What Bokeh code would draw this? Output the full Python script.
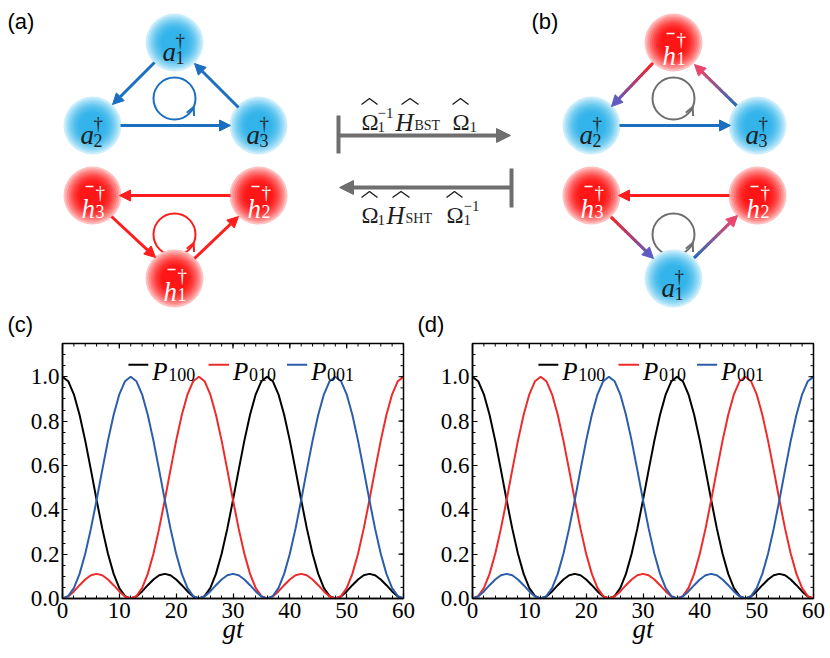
import math
from bokeh.plotting import figure
from bokeh.models import (Range1d, Arrow, NormalHead, OpenHead,
                          FixedTicker, PrintfTickFormatter)
from bokeh.layouts import column, row
from bokeh.core.properties import value
from bokeh.embed import file_html
from bokeh.resources import INLINE

# ---------------- data ----------------
gt = list(range(61))
P100 = [1.000, 0.980, 0.921, 0.829, 0.712, 0.580, 0.444, 0.315, 0.202, 0.111, 0.047, 0.011, 0.000,
        0.009, 0.032, 0.060, 0.086, 0.105, 0.111, 0.105, 0.086, 0.060, 0.032, 0.009, 0.000,
        0.011, 0.047, 0.111, 0.202, 0.315, 0.444, 0.580, 0.712, 0.829, 0.921, 0.980, 1.000,
        0.980, 0.921, 0.829, 0.712, 0.580, 0.444, 0.315, 0.202, 0.111, 0.047, 0.011, 0.000,
        0.009, 0.032, 0.060, 0.086, 0.105, 0.111, 0.105, 0.086, 0.060, 0.032, 0.009, 0.000]
P_peak12 = [0.000, 0.011, 0.047, 0.111, 0.202, 0.315, 0.444, 0.580, 0.712, 0.829, 0.921, 0.980,
            1.000, 0.980, 0.921, 0.829, 0.712, 0.580, 0.444, 0.315, 0.202, 0.111, 0.047, 0.011, 0.000,
            0.009, 0.032, 0.060, 0.086, 0.105, 0.111, 0.105, 0.086, 0.060, 0.032, 0.009, 0.000,
            0.011, 0.047, 0.111, 0.202, 0.315, 0.444, 0.580, 0.712, 0.829, 0.921, 0.980, 1.000,
            0.980, 0.921, 0.829, 0.712, 0.580, 0.444, 0.315, 0.202, 0.111, 0.047, 0.011, 0.000]
P_peak24 = [0.000, 0.009, 0.032, 0.060, 0.086, 0.105, 0.111, 0.105, 0.086, 0.060, 0.032, 0.009,
            0.000, 0.011, 0.047, 0.111, 0.202, 0.315, 0.444, 0.580, 0.712, 0.829, 0.921, 0.980,
            1.000, 0.980, 0.921, 0.829, 0.712, 0.580, 0.444, 0.315, 0.202, 0.111, 0.047, 0.011, 0.000,
            0.009, 0.032, 0.060, 0.086, 0.105, 0.111, 0.105, 0.086, 0.060, 0.032, 0.009, 0.000,
            0.011, 0.047, 0.111, 0.202, 0.315, 0.444, 0.580, 0.712, 0.829, 0.921, 0.980, 1.000]
# panel (c)
P100_c, P010_c, P001_c = P100, P_peak24, P_peak12
# panel (d)
P100_d, P010_d, P001_d = P100, P_peak12, P_peak24

x_ticks = [0, 10, 20, 30, 40, 50, 60]
y_ticks = [0.0, 0.2, 0.4, 0.6, 0.8, 1.0]
x_minor = list(range(0, 61, 2))
y_minor = [round(0.05 * i, 2) for i in range(24)]
legend_labels = ["100", "010", "001"]

SERIF = "Liberation Serif"
SANS = "Liberation Sans"
BLUE = "#1a6fc0"
RED = "#ff1c1c"
GRAY = "#6e6e6e"
C_BLACK = "black"
C_RED = "#ee2a2a"
C_BLUE = "#2b5dab"
INK = "#1e1e1e"


def hx(c):
    return tuple(int(c[i:i + 2], 16) for i in (1, 3, 5))


def mix(a, b, t):
    a, b = hx(a), hx(b)
    return "#%02x%02x%02x" % tuple(int(round(a[i] + (b[i] - a[i]) * t)) for i in range(3))


def txt(fig, x, y, s, size, style="normal", color="black", align="left",
        baseline="alphabetic", font=SERIF):
    fig.text(x=[x], y=[y], text=[s], text_font=value(font),
             text_font_size=value(f"{size}px"), text_font_style=style,
             text_color=color, text_align=align, text_baseline=baseline)


# ---------------- top diagram (page pixel coordinates) ----------------
TOP_H = 338
top = figure(width=830, height=TOP_H, x_range=Range1d(0, 830), y_range=Range1d(TOP_H, 0),
             output_backend="svg", toolbar_location=None, x_axis_type=None,
             y_axis_type=None, min_border=0, outline_line_color=None)
top.background_fill_color = "white"


def node(cx, cy, kind, k):
    if kind == "a":
        c0, c1 = "#33b4ea", "#cdeefb"
    else:
        c0, c1 = "#ff1616", "#ffc0c0"
    R, n = 29, 16
    rs, cols = [], []
    for i in range(n):
        f = 1 - i / n
        t = max(0.0, (f - 0.4) / 0.6) ** 1.8
        rs.append(R * f)
        cols.append(mix(c0, c1, t))
    top.circle(x=[cx] * n, y=[cy] * n, radius=rs, fill_color=cols, line_color=None)
    if kind == "a":
        txt(top, cx - 12, cy + 9, "a", 27, "italic", INK)
        txt(top, cx + 1, cy - 2, "†", 19, color=INK)
        txt(top, cx + 1, cy + 15, str(k), 18, color=INK)
    else:
        txt(top, cx - 11, cy + 13, "h", 27, "italic", "white")
        top.segment(x0=[cx - 7], y0=[cy - 9], x1=[cx + 1], y1=[cy - 9],
                    line_color="white", line_width=1.5)
        txt(top, cx + 3, cy - 3, "†", 19, color="white")
        txt(top, cx + 3, cy + 16, str(k), 18, color="white")


def arrow(x0, y0, x1, y1, c, lw=3, size=11):
    top.add_layout(Arrow(end=NormalHead(size=size, fill_color=c, line_color=c),
                         x_start=x0, y_start=y0, x_end=x1, y_end=y1,
                         line_color=c, line_width=lw))


def grad_arrow(x0, y0, x1, y1, ca, cb, lw=3, size=11, n=24):
    xs0, ys0, xs1, ys1, cols = [], [], [], [], []
    for i in range(n):
        t0, t1 = i / n, (i + 1) / n
        xs0.append(x0 + (x1 - x0) * t0 * 0.93)
        ys0.append(y0 + (y1 - y0) * t0 * 0.93)
        xs1.append(x0 + (x1 - x0) * t1 * 0.93)
        ys1.append(y0 + (y1 - y0) * t1 * 0.93)
        cols.append(mix(ca, cb, (t0 + t1) / 2))
    top.segment(x0=xs0, y0=ys0, x1=xs1, y1=ys1, line_color=cols, line_width=lw,
                line_cap="round")
    top.add_layout(Arrow(end=NormalHead(size=size, fill_color=cb, line_color=cb),
                         x_start=x1 - (x1 - x0) * 0.1, y_start=y1 - (y1 - y0) * 0.1,
                         x_end=x1, y_end=y1, line_color=cb, line_width=lw))


def loop(cx, cy, c, r=21, th=24):
    top.circle(x=[cx], y=[cy], radius=r, fill_color=None, line_color=c, line_width=2)
    a = math.radians(th)
    px, py = cx + r * math.cos(a), cy + r * math.sin(a)
    dx, dy = math.sin(a), -math.cos(a)
    top.add_layout(Arrow(end=OpenHead(size=8, line_color=c, line_width=2),
                         x_start=px - 2 * dx, y_start=py - 2 * dy, x_end=px, y_end=py,
                         line_color=c, line_width=2))


# (a)
arrow(154, 62, 112, 104, BLUE)
arrow(120, 125, 230, 125, BLUE)
arrow(238, 107, 194, 63, BLUE)
arrow(230, 195, 119, 195, RED)
arrow(111, 216, 155, 257, RED)
arrow(194, 258, 238, 216, RED)
loop(174, 98, BLUE)
loop(174, 234, RED)
for kind, k, cx, cy in [("a", 1, 174, 42), ("a", 2, 92, 125), ("a", 3, 258, 125),
                        ("h", 3, 92, 195), ("h", 2, 258, 195), ("h", 1, 174, 278)]:
    node(cx, cy, kind, k)

# (b)
grad_arrow(652, 63, 611, 106, "#ff2020", "#5e5cc0")
arrow(619, 125, 730, 125, BLUE)
grad_arrow(738, 107, 694, 64, BLUE, "#e8466a")
arrow(729, 195, 618, 195, RED)
grad_arrow(610, 216, 653, 258, "#ff2020", "#5e5cc0")
grad_arrow(692, 259, 737, 215, BLUE, "#e8466a")
loop(673, 98, GRAY)
loop(673, 234, GRAY)
for kind, k, cx, cy in [("h", 1, 673, 42), ("a", 2, 591, 125), ("a", 3, 757, 125),
                        ("h", 3, 591, 195), ("h", 2, 757, 195), ("a", 1, 673, 278)]:
    node(cx, cy, kind, k)

# middle transform arrows
top.segment(x0=[338, 511], y0=[115, 168], x1=[338, 511], y1=[153, 207],
            line_color=GRAY, line_width=4)
arrow(338, 135, 510, 135, GRAY, lw=4, size=14)
arrow(511, 187, 339, 187, GRAY, lw=4, size=14)


def hat(x0, x1, ytop):
    xm = (x0 + x1) / 2
    top.line(x=[x0, xm, x1], y=[ytop + 6, ytop, ytop + 6], line_color=INK,
             line_width=1.4)


# top label  Ω̂1^-1 Ĥ_BST Ω̂1
txt(top, 361, 122, "Ω", 23, color=INK)
hat(361, 377, 98)
txt(top, 377, 126, "1", 15, color=INK)
txt(top, 377, 112, "−1", 15, color=INK)
txt(top, 395, 122, "H", 25, "italic", color=INK)
hat(401, 418, 98)
txt(top, 414, 125, "BST", 14, color=INK)
txt(top, 452, 122, "Ω", 23, color=INK)
hat(452, 468, 98)
txt(top, 469, 126, "1", 15, color=INK)
# bottom label  Ω̂1 Ĥ_SHT Ω̂1^-1
txt(top, 361, 215, "Ω", 23, color=INK)
hat(361, 377, 191)
txt(top, 377, 219, "1", 15, color=INK)
txt(top, 386, 215, "H", 25, "italic", color=INK)
hat(392, 409, 191)
txt(top, 405, 218, "SHT", 14, color=INK)
txt(top, 446, 215, "Ω", 23, color=INK)
hat(446, 462, 191)
txt(top, 463, 219, "1", 15, color=INK)
txt(top, 463, 205, "−1", 15, color=INK)

# panel labels
txt(top, 7, 21, "(a)", 22, baseline="middle", font=SANS)
txt(top, 531, 21, "(b)", 22, baseline="middle", font=SANS)
txt(top, 7, 324, "(c)", 22, baseline="middle", font=SANS)
txt(top, 417, 324, "(d)", 22, baseline="middle", font=SANS)


# ---------------- bottom plots ----------------
FRAME_W, FRAME_H = 341, 255
X0, X1, Y0, Y1 = 0, 60, 0, 1.15


def panel(s100, s010, s001, lb, rb):
    p = figure(width=415, height=658 - TOP_H, x_range=Range1d(X0, X1),
               y_range=Range1d(Y0, Y1), output_backend="svg", toolbar_location=None,
               min_border_left=lb, min_border_right=rb, min_border_top=5,
               min_border_bottom=60)
    p.grid.visible = False
    p.outline_line_color = "black"
    p.outline_line_width = 1.5
    p.line(gt, s100, line_color=C_BLACK, line_width=2)
    p.line(gt, s010, line_color=C_RED, line_width=2)
    p.line(gt, s001, line_color=C_BLUE, line_width=2)

    xa = p.xaxis[0]
    ya = p.yaxis[0]
    for ax in (xa, ya):
        ax.axis_line_color = "black"
        ax.axis_line_width = 1.5
        ax.major_tick_in = 5
        ax.major_tick_out = 0
        ax.minor_tick_in = 3
        ax.minor_tick_out = 0
        ax.major_tick_line_color = "black"
        ax.minor_tick_line_color = "black"
        ax.major_tick_line_width = 1.2
        ax.minor_tick_line_width = 1
        ax.major_label_text_font = SERIF
        ax.major_label_text_font_size = "23px"
        ax.major_label_text_color = "black"
    xa.ticker = FixedTicker(ticks=x_ticks, minor_ticks=x_minor)
    xa.major_label_standoff = 4
    ya.ticker = FixedTicker(ticks=y_ticks, minor_ticks=y_minor)
    ya.formatter = PrintfTickFormatter(format="%.1f")
    ya.major_label_standoff = 3

    xa.axis_label = "gt"
    xa.axis_label_text_font = SERIF
    xa.axis_label_text_font_size = "27px"
    xa.axis_label_text_font_style = "italic"
    xa.axis_label_text_color = "black"
    xa.axis_label_standoff = -7

    # mirrored ticks on the top and right edges of the frame
    dy_maj, dy_min = 5 * (Y1 - Y0) / FRAME_H, 3 * (Y1 - Y0) / FRAME_H
    dx_maj, dx_min = 5 * (X1 - X0) / FRAME_W, 3 * (X1 - X0) / FRAME_W
    p.segment(x0=x_ticks, y0=[Y1] * len(x_ticks), x1=x_ticks,
              y1=[Y1 - dy_maj] * len(x_ticks), line_color="black", line_width=1.2)
    p.segment(x0=x_minor, y0=[Y1] * len(x_minor), x1=x_minor,
              y1=[Y1 - dy_min] * len(x_minor), line_color="black", line_width=1)
    p.segment(x0=[X1] * len(y_ticks), y0=y_ticks, x1=[X1 - dx_maj] * len(y_ticks),
              y1=y_ticks, line_color="black", line_width=1.2)
    p.segment(x0=[X1] * len(y_minor), y0=y_minor, x1=[X1 - dx_min] * len(y_minor),
              y1=y_minor, line_color="black", line_width=1)

    # legend
    segs = [(11.6, 15.1), (25.7, 29.3), (39.5, 43.05)]
    cols = [C_BLACK, C_RED, C_BLUE]
    for (a, b), c, lab in zip(segs, cols, legend_labels):
        p.line([a, b], [1.054, 1.054], line_color=c, line_width=2)
        p.text(x=[b + 0.7], y=[1.024], text=["P"], text_font=value(SERIF),
               text_font_size=value("25px"), text_font_style="italic",
               text_baseline="alphabetic", text_color="black")
        p.text(x=[b + 3.5], y=[1.011], text=[lab], text_font=value(SERIF),
               text_font_size=value("18px"), text_baseline="alphabetic",
               text_color="black")
    return p


pc = panel(P100_c, P010_c, P001_c, 62, 12)
pd = panel(P100_d, P010_d, P001_d, 57, 17)

layout = column(top, row(pc, pd, spacing=0), spacing=0)
open("out.html", "w").write(file_html(layout, INLINE))
